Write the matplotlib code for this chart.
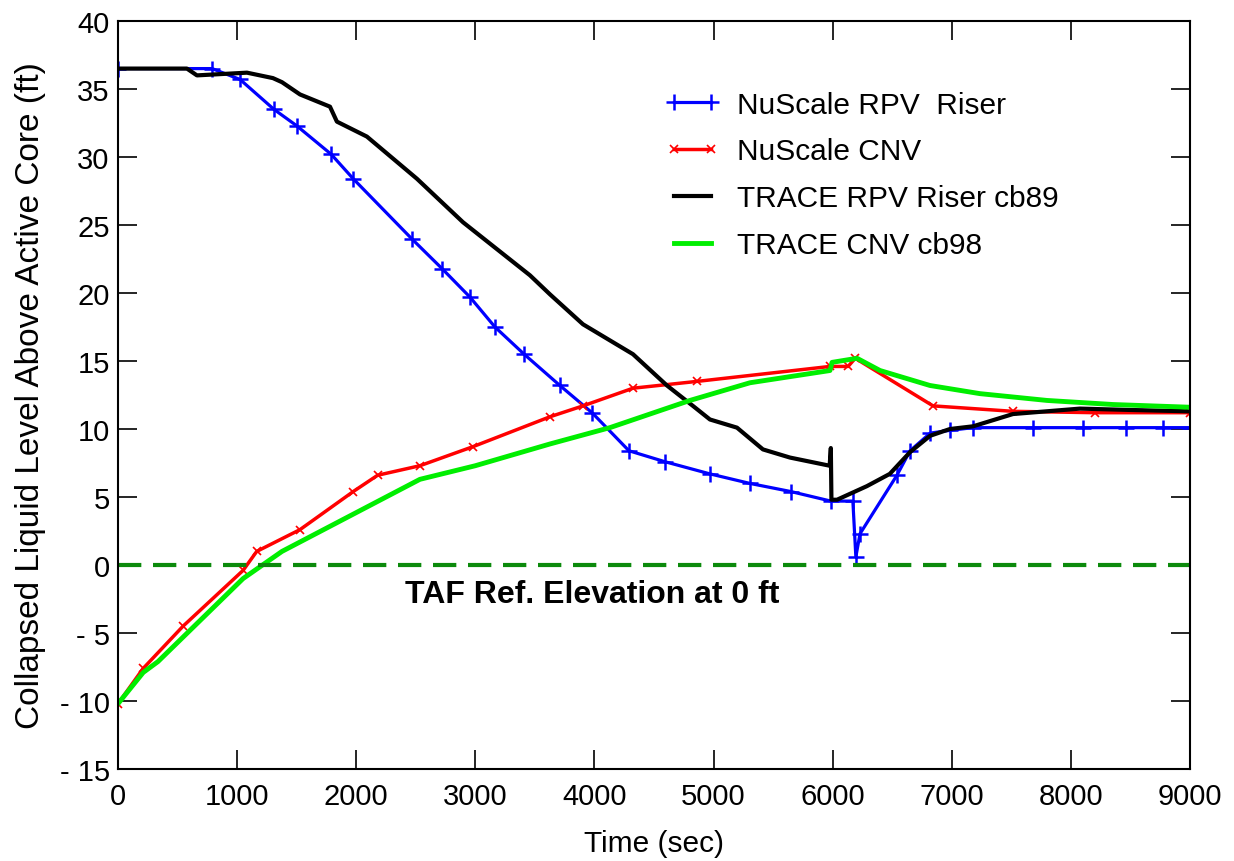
import matplotlib
matplotlib.use("Agg")
import matplotlib.pyplot as plt
from matplotlib.ticker import FuncFormatter

plt.rcParams['font.family'] = ['Liberation Sans', 'DejaVu Sans']

# NuScale RPV riser (blue, + markers)
riser_t = [0, 790, 1025, 1310, 1500, 1790, 1975, 2465, 2720, 2955, 3165, 3410, 3710, 3980,
           4290, 4590, 4970, 5305, 5650, 5985, 6170, 6195, 6230, 6540, 6650, 6820, 6985,
           7180, 7680, 8100, 8460, 8775, 9000]
riser_lvl = [36.5, 36.5, 35.7, 33.5, 32.3, 30.2, 28.4, 24.0, 21.8, 19.7, 17.5, 15.5, 13.2, 11.2,
             8.4, 7.6, 6.7, 6.0, 5.4, 4.7, 4.7, 0.6, 2.3, 6.6, 8.4, 9.7, 9.9,
             10.1, 10.1, 10.1, 10.1, 10.1, 10.1]

# NuScale CNV (red, x markers)
cnv_t = [0, 212, 546, 1050, 1165, 1528, 1975, 2180, 2535, 2980, 3627, 3904, 4324, 4861,
         5978, 6130, 6190, 6843, 7514, 8200, 9000]
cnv_lvl = [-10.2, -7.6, -4.5, -0.4, 1.0, 2.6, 5.4, 6.6, 7.3, 8.7, 10.9, 11.7, 13.0, 13.5,
           14.6, 14.6, 15.2, 11.7, 11.3, 11.2, 11.2]

# TRACE RPV riser cb89 (black)
tr_riser_t = [0, 579, 663, 1083, 1301, 1377, 1528, 1780, 1838, 2090, 2510, 2897, 3459, 3627,
              3904, 4324, 4609, 4827, 4970, 5197, 5415, 5642, 5975, 5985, 5990, 6037, 6288,
              6480, 6650, 6818, 6985, 7180, 7514, 8077, 8500, 9000]
tr_riser_lvl = [36.5, 36.5, 36.0, 36.2, 35.8, 35.5, 34.6, 33.7, 32.6, 31.5, 28.4, 25.2, 21.3, 19.9,
                17.7, 15.5, 13.2, 11.7, 10.7, 10.1, 8.5, 7.9, 7.3, 8.6, 4.8, 4.8, 5.8,
                6.7, 8.3, 9.5, 10.0, 10.2, 11.1, 11.5, 11.4, 11.3]

# TRACE CNV cb98 (green)
tr_cnv_t = [0, 212, 336, 1050, 1377, 2535, 3000, 3627, 4130, 4802, 5306, 5978, 5995, 6205,
            6398, 6817, 7237, 7800, 8354, 9000]
tr_cnv_lvl = [-10.2, -7.9, -7.1, -1.0, 1.0, 6.3, 7.3, 8.9, 10.1, 12.1, 13.4, 14.3, 14.9, 15.2,
              14.3, 13.2, 12.6, 12.1, 11.8, 11.6]

fig = plt.figure(figsize=(12.34, 8.62), dpi=100)
ax = fig.add_axes([0.0956, 0.1067, 0.8687, 0.8678])

ax.plot(riser_t, riser_lvl, color='#0000ff', lw=2.3, marker='+', ms=12, mew=1.8,
        label='NuScale RPV  Riser')
ax.plot(cnv_t, cnv_lvl, color='#ff0000', lw=2.5, marker='x', ms=6, mew=1.2,
        label='NuScale CNV')
ax.plot(tr_riser_t, tr_riser_lvl, color='black', lw=3, label='TRACE RPV Riser cb89')
ax.plot(tr_cnv_t, tr_cnv_lvl, color='#00ee00', lw=3.5, label='TRACE CNV cb98')

ax.axhline(0, color='#0c8a0c', lw=3, dashes=(5.6, 2.8))
ax.text(2410, -2.1, 'TAF Ref. Elevation at 0 ft', fontsize=23, fontweight='bold',
        va='center', ha='left')

ax.set_xlim(0, 9000)
ax.set_ylim(-15, 40)
ax.set_xticks(range(0, 9001, 1000))
ax.set_yticks(range(-15, 41, 5))
ax.yaxis.set_major_formatter(FuncFormatter(lambda v, p: f"- {abs(int(v))}" if v < 0 else f"{int(v)}"))
ax.tick_params(direction='in', length=14, width=1.2, labelsize=21,
               top=True, right=True)
ax.tick_params(axis='x', pad=9)
ax.tick_params(axis='y', pad=6)
for s in ax.spines.values():
    s.set_linewidth(1.5)

ax.set_xlabel('Time (sec)', fontsize=21.5, labelpad=14)
ax.set_ylabel('Collapsed Liquid Level Above Active Core (ft)', fontsize=24, labelpad=10)

ax.legend(loc='upper left', bbox_to_anchor=(0.51, 0.907), frameon=False, fontsize=21.5,
          numpoints=2, handlelength=1.85, labelspacing=0.63, handletextpad=0.57,
          borderpad=0, borderaxespad=0)

fig.savefig('out.png', dpi=100)
